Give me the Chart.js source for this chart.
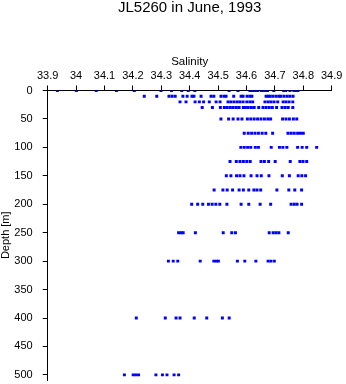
<!DOCTYPE html>
<html>
<head>
<meta charset="utf-8">
<script src="https://cdn.jsdelivr.net/npm/chart.js@4/dist/chart.umd.min.js"></script>
<style>
  html, body { margin: 0; padding: 0; background: #fff; }
  #wrap { width: 346px; height: 384px; position: relative; }
</style>
</head>
<body>
<div id="wrap"><canvas id="grafico"></canvas></div>
<script>
// depth levels of the cast (m)
const depths = [0, 10, 20, 30, 50, 75, 100, 125, 150, 175, 200, 250, 300, 400, 500];

// salinity readings at each depth
const sal0 = [33.934, 34.001, 34.071, 34.142, 34.205, 34.299, 34.336, 34.372, 34.395, 34.418, 34.539, 34.570, 34.612, 34.619, 34.626, 34.633, 34.640, 34.653, 34.660, 34.667, 34.674, 34.696, 34.731, 34.738, 34.753, 34.767, 34.774, 34.781];
const sal10 = [34.240, 34.284, 34.327, 34.338, 34.349, 34.376, 34.391, 34.408, 34.415, 34.440, 34.475, 34.485, 34.510, 34.521, 34.528, 34.555, 34.581, 34.588, 34.602, 34.612, 34.619, 34.669, 34.676, 34.683, 34.693, 34.704, 34.714, 34.721, 34.732, 34.743, 34.753, 34.764];
const sal20 = [34.366, 34.387, 34.419, 34.434, 34.449, 34.469, 34.493, 34.507, 34.535, 34.545, 34.556, 34.567, 34.577, 34.588, 34.601, 34.612, 34.622, 34.665, 34.676, 34.686, 34.697, 34.710, 34.729, 34.739, 34.750, 34.763];
const sal30 = [34.444, 34.480, 34.508, 34.522, 34.532, 34.543, 34.553, 34.564, 34.574, 34.589, 34.596, 34.606, 34.617, 34.627, 34.643, 34.658, 34.669, 34.680, 34.691, 34.706, 34.725, 34.736, 34.747, 34.763];
const sal50 = [34.510, 34.537, 34.553, 34.570, 34.584, 34.603, 34.615, 34.627, 34.639, 34.651, 34.663, 34.675, 34.685, 34.727, 34.739, 34.751, 34.765, 34.777];
const sal75 = [34.592, 34.606, 34.618, 34.630, 34.642, 34.655, 34.668, 34.692, 34.746, 34.757, 34.768, 34.780, 34.790, 34.800];
const sal100 = [34.580, 34.592, 34.604, 34.615, 34.631, 34.642, 34.687, 34.716, 34.728, 34.742, 34.780, 34.796, 34.812, 34.847];
const sal125 = [34.542, 34.564, 34.577, 34.589, 34.601, 34.613, 34.651, 34.663, 34.678, 34.701, 34.754, 34.788, 34.799, 34.812];
const sal150 = [34.529, 34.545, 34.565, 34.577, 34.591, 34.616, 34.637, 34.652, 34.679, 34.726, 34.751, 34.782, 34.795, 34.808];
const sal175 = [34.486, 34.517, 34.532, 34.551, 34.574, 34.589, 34.608, 34.626, 34.637, 34.650, 34.707, 34.749, 34.770, 34.794];
const sal200 = [34.407, 34.428, 34.446, 34.466, 34.479, 34.492, 34.506, 34.531, 34.581, 34.608, 34.648, 34.685, 34.757, 34.768, 34.778, 34.794];
const sal250 = [34.361, 34.370, 34.377, 34.420, 34.518, 34.548, 34.561, 34.680, 34.694, 34.704, 34.714, 34.747];
const sal300 = [34.325, 34.342, 34.358, 34.437, 34.485, 34.494, 34.501, 34.568, 34.594, 34.633, 34.676, 34.686, 34.698];
const sal400 = [34.212, 34.314, 34.352, 34.366, 34.416, 34.460, 34.515, 34.539];
const sal500 = [34.170, 34.201, 34.210, 34.220, 34.281, 34.304, 34.320, 34.345, 34.361];

const salByDepth = [sal0, sal10, sal20, sal30, sal50, sal75, sal100, sal125, sal150, sal175, sal200, sal250, sal300, sal400, sal500];

// axis ticks
const xTicks = [33.9, 34.0, 34.1, 34.2, 34.3, 34.4, 34.5, 34.6, 34.7, 34.8, 34.9];
const xTickLabels = ["33.9", "34", "34.1", "34.2", "34.3", "34.4", "34.5", "34.6", "34.7", "34.8", "34.9"];
const yTicks = [0, 50, 100, 150, 200, 250, 300, 350, 400, 450, 500];

const puntos = [];
depths.forEach((d, i) => {
  salByDepth[i].forEach(s => puntos.push({ x: s, y: d }));
});

const fuente = "'Liberation Sans', Arial, Helvetica, sans-serif";

new Chart(document.getElementById("grafico"), {
  type: "scatter",
  data: {
    datasets: [{
      data: puntos,
      pointStyle: "rect",
      pointRadius: 2.1,
      pointBorderWidth: 0,
      backgroundColor: "#0000ff",
      borderColor: "#0000ff"
    }]
  },
  options: {
    responsive: true,
    maintainAspectRatio: false,
    animation: false,
    layout: { padding: { left: 0, right: 14.3, top: 0, bottom: 0 } },
    plugins: {
      legend: { display: false },
      tooltip: { enabled: false },
      title: {
        display: true,
        text: "JL5260 in June, 1993",
        fullSize: false,
        color: "#000",
        font: { family: fuente, size: 15, weight: "normal", lineHeight: 1 },
        padding: { top: 0.5, bottom: 0 }
      }
    },
    scales: {
      x: {
        type: "linear",
        position: "top",
        min: 33.9,
        max: 34.9,
        afterBuildTicks: axis => { axis.ticks = xTicks.map(v => ({ value: v })); },
        afterFit: scale => { scale.height = 75; },
        ticks: {
          color: "#000",
          padding: 3,
          maxRotation: 0,
          autoSkip: false,
          font: { family: fuente, size: 11 },
          callback: (v, i) => xTickLabels[i]
        },
        grid: { drawOnChartArea: false, drawTicks: true, tickLength: 5, color: "#000" },
        border: { display: true, color: "#000", width: 1 },
        title: {
          display: true,
          text: "Salinity",
          color: "#000",
          font: { family: fuente, size: 11.5 },
          padding: { top: 39, bottom: 0 }
        }
      },
      y: {
        type: "linear",
        reverse: true,
        min: 0,
        max: 509,
        afterBuildTicks: axis => { axis.ticks = yTicks.map(v => ({ value: v })); },
        afterFit: scale => {
          scale.width = 47.7;
          // let the depth axis run down close to the bottom edge
          scale.paddingTop = 0;
          scale.paddingBottom = 0;
        },
        ticks: {
          color: "#000",
          padding: 10,
          autoSkip: false,
          font: { family: fuente, size: 11 }
        },
        grid: { drawOnChartArea: false, drawTicks: true, tickLength: 5, color: "#000" },
        border: { display: true, color: "#000", width: 1 },
        title: {
          display: true,
          text: "Depth [m]",
          color: "#000",
          font: { family: fuente, size: 11, lineHeight: 1 },
          padding: { top: 0.5, bottom: 0 }
        }
      }
    }
  }
});
</script>
</body>
</html>
